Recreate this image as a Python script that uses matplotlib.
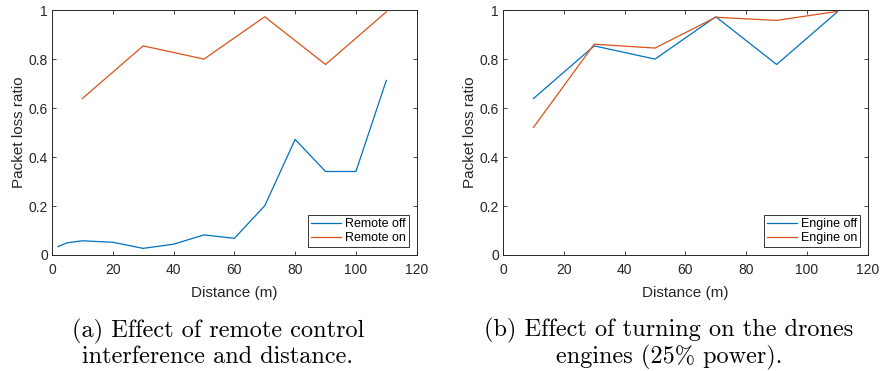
import matplotlib
matplotlib.use("Agg")
import matplotlib.pyplot as plt

# left panel: remote control interference
dist_off = [2, 5, 10, 20, 30, 40, 50, 60, 70, 80, 90, 100, 110]
remote_off = [0.034, 0.050, 0.058, 0.052, 0.027, 0.044, 0.082, 0.068, 0.201, 0.472, 0.341, 0.341, 0.713]
dist_on = [10, 30, 50, 70, 90, 110]
remote_on = [0.639, 0.854, 0.800, 0.973, 0.778, 0.993]

# right panel: drone engines
dist_eng = [10, 30, 50, 70, 90, 110]
engine_off = [0.639, 0.854, 0.800, 0.973, 0.778, 0.993]
engine_on = [0.521, 0.861, 0.845, 0.971, 0.958, 0.995]

xticks = [0, 20, 40, 60, 80, 100, 120]
yticks = [0, 0.2, 0.4, 0.6, 0.8, 1]
ytick_labels = ["0", "0.2", "0.4", "0.6", "0.8", "1"]

captions = ["(a) Effect of remote control\ninterference and distance.",
            "(b) Effect of turning on the drones\nengines (25% power)."]
caption_x = [218 / 881, 669 / 881]

blue = "#0072BD"
orange = "#D95319"
dark = "#262626"

plt.rcParams["font.family"] = ["Liberation Sans", "DejaVu Sans"]

fig = plt.figure(figsize=(8.81, 3.71), dpi=100)
ax1 = fig.add_axes([0.059, 0.3127, 0.414, 0.660])
ax2 = fig.add_axes([0.571, 0.3127, 0.414, 0.660])

ax1.plot(dist_off, remote_off, color=blue, lw=0.9, label="Remote off")
ax1.plot(dist_on, remote_on, color=orange, lw=0.9, label="Remote on")
ax2.plot(dist_eng, engine_off, color=blue, lw=0.9, label="Engine off")
ax2.plot(dist_eng, engine_on, color=orange, lw=0.9, label="Engine on")

for ax, cap, cx in zip([ax1, ax2], captions, caption_x):
    ax.set_xlim(0, 120)
    ax.set_ylim(0, 1)
    ax.set_xticks(xticks)
    ax.set_yticks(yticks)
    ax.set_yticklabels(ytick_labels)
    ax.tick_params(direction="in", length=3, width=0.6, top=True, right=True,
                   labelsize=10, colors=dark)
    ax.tick_params(axis="x", pad=6)
    ax.tick_params(axis="y", pad=3)
    for s in ax.spines.values():
        s.set_color(dark)
        s.set_linewidth(0.7)
    ax.set_xlabel("Distance (m)", fontsize=11, color=dark, labelpad=6)
    ax.set_ylabel("Packet loss ratio", fontsize=11, color=dark, labelpad=2)
    leg = ax.legend(loc="lower right", fontsize=9, frameon=True, fancybox=False,
                    edgecolor="black", handlelength=2.4, handletextpad=0.3,
                    borderpad=0.25, labelspacing=0.15, borderaxespad=0.6)
    leg.get_frame().set_linewidth(0.7)
    fig.text(cx, 8 / 371, cap, ha="center", va="baseline", multialignment="center",
             fontsize=17.5, family=["cmr10", "DejaVu Serif"], linespacing=1.1)

fig.savefig("out.png", dpi=100)
